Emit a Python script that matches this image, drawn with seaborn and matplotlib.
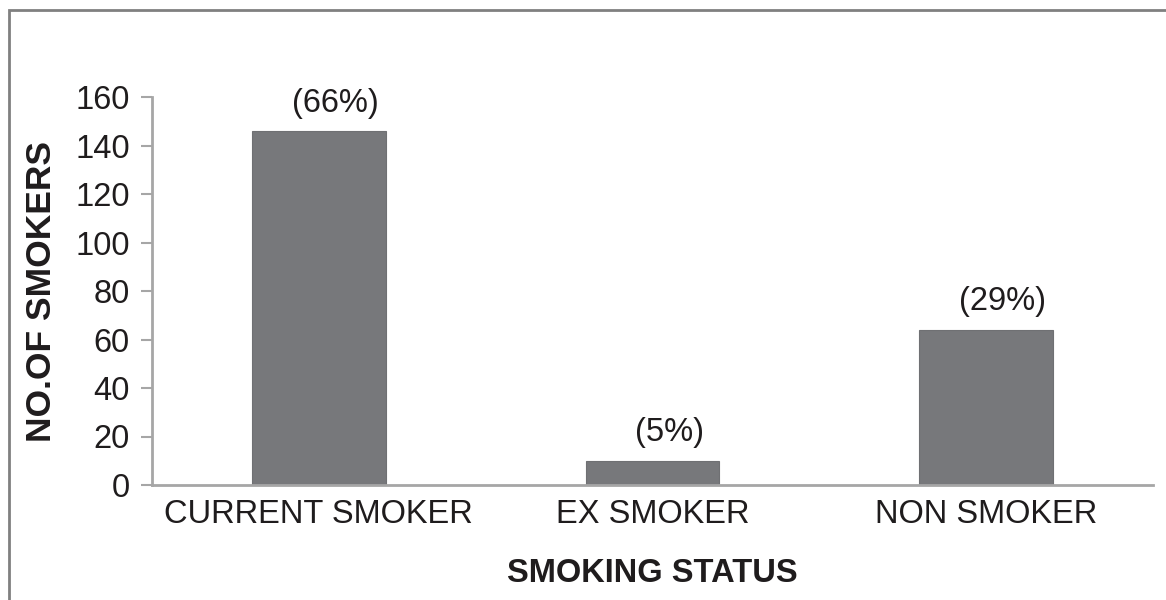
import pandas as pd
import seaborn as sns
import matplotlib.pyplot as plt
from matplotlib.patches import Rectangle

status = ['CURRENT SMOKER', 'EX SMOKER', 'NON SMOKER']
smokers = [146, 10, 64]
percent = ['(66%)', '(5%)', '(29%)']
yticks = [0, 20, 40, 60, 80, 100, 120, 140, 160]

sns.set_style('white')
plt.rcParams['font.family'] = ['Liberation Sans', 'DejaVu Sans']

df = pd.DataFrame({'status': status, 'smokers': smokers})

fig = plt.figure(figsize=(11.66, 6.0), dpi=100)
ax = fig.add_axes([152 / 1166, 1 - 485 / 600, (1153 - 152) / 1166, (485 - 97) / 600])

sns.barplot(ax=ax, data=df, x='status', y='smokers', color='#77787b',
            saturation=1, width=0.4, edgecolor='#6f7073', linewidth=0.8)

for i, (v, p) in enumerate(zip(smokers, percent)):
    ax.text(i + 0.05, v + 8, p, ha='center', va='baseline', fontsize=23.5, color='#1f1c1d')

ax.set_xlim(-0.5, 2.5)
ax.set_ylim(0, 160)
ax.set_yticks(yticks)
ax.tick_params(axis='y', length=8, width=1.5, color='#a6a6a6', labelsize=23.5,
               labelcolor='#1f1c1d', pad=8, left=True)
ax.tick_params(axis='x', length=0, labelsize=23.5, labelcolor='#1f1c1d', pad=10)

for s in ['top', 'right']:
    ax.spines[s].set_visible(False)
for s in ['left', 'bottom']:
    ax.spines[s].set_color('#a6a6a6')
    ax.spines[s].set_linewidth(2)

ax.set_xlabel('SMOKING STATUS', fontsize=23.5, fontweight='bold', color='#1f1c1d', labelpad=20)
ax.set_ylabel('NO.OF SMOKERS', fontsize=25.5, fontweight='bold', color='#1f1c1d', labelpad=12)

fig.patches.append(Rectangle((9 / 1166, -0.1), 1.2, (590 + 60) / 600, transform=fig.transFigure,
                             fill=False, edgecolor='#808080', linewidth=2))

fig.savefig('out.png', dpi=100)
